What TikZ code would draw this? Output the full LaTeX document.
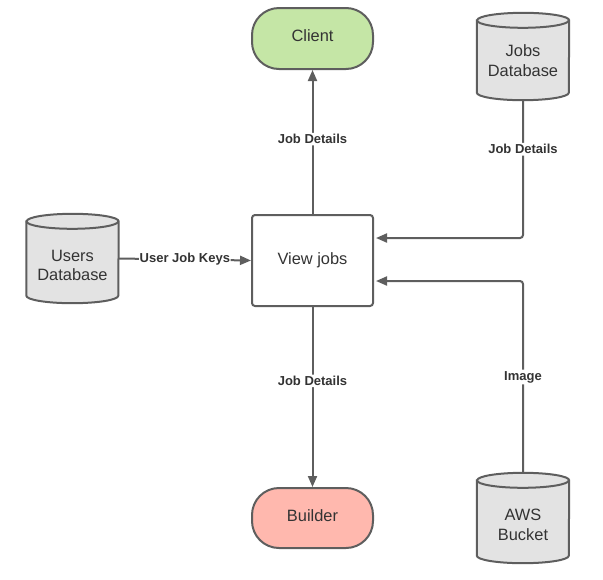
\documentclass[tikz,border=0pt]{standalone}
\usepackage{fontspec}
\setmainfont{Liberation Sans}
\usetikzlibrary{arrows.meta,calc,backgrounds}
\definecolor{lncol}{HTML}{5E5E5E}
\definecolor{txcol}{HTML}{333333}
\definecolor{cgreen}{HTML}{C5E6A6}
\definecolor{cpink}{HTML}{FFB8AE}
\definecolor{cgray}{HTML}{E3E3E3}
\begin{document}
\begin{tikzpicture}[x=1pt,y=-1pt,
  box/.style={draw=lncol,line width=2pt,rounded corners=3pt,minimum width=121pt,minimum height=91pt,inner sep=0pt,
    text=txcol,font=\fontsize{16.4}{19.5}\selectfont,align=center},
  term/.style={draw=lncol,line width=2pt,rounded corners=27pt,minimum width=121pt,minimum height=61pt,inner sep=0pt,
    text=txcol,font=\fontsize{16.4}{19.5}\selectfont,text height=12pt,text depth=6pt},
  dbnode/.style={minimum width=92pt,minimum height=#1,inner sep=0pt},
  dbtext/.style={text=txcol,font=\fontsize{16.4}{19.5}\selectfont,align=center},
  cylbody/.style={draw=lncol,fill=cgray,line width=2pt},
  conn/.style={draw=lncol,line width=2pt,-{Triangle[length=11pt,width=9pt]},rounded corners=3pt},
  lbl/.style={fill=white,text=txcol,font=\bfseries\fontsize{13}{15}\selectfont,inner sep=1.5pt},
]
\useasboundingbox (0,0) rectangle (603,579);

% process nodes
\node[term,fill=cgreen] (client) at (312.5,38.5) {Client};
\node[box] (view) at (312.5,260.5) {View jobs};
\node[term,fill=cpink,minimum height=60pt] (builder) at (312.5,518) {Builder};

% database nodes
\node[dbnode=87pt] (jobs) at (523,56.5) {};
\node[dbnode=89pt] (users) at (72.5,258.5) {};
\node[dbnode=90pt] (aws) at (523,518) {};

\begin{scope}[on background layer]
\foreach \n in {jobs,users,aws}{
  \draw[cylbody] ($(\n.north west)+(0,7.5)$) -- ($(\n.south west)+(0,-7.5)$)
    arc[start angle=180,end angle=360,x radius=46pt,y radius=7.5pt]
    -- ($(\n.north east)+(0,7.5)$)
    arc[start angle=0,end angle=180,x radius=46pt,y radius=7.5pt] -- cycle;
  \draw[draw=lncol,line width=2pt] ($(\n.north west)+(0,7.5)$)
    arc[start angle=180,end angle=360,x radius=46pt,y radius=7.5pt];
}
\end{scope}

\node[dbtext] (jobsT) at ($(jobs.center)+(0,4)$) {Jobs\\Database};
\node[dbtext] (usersT) at ($(users.center)+(0,7)$) {Users\\Database};
\node[dbtext] (awsT) at ($(aws.center)+(0,7)$) {AWS\\Bucket};

% connectors
\draw[conn] (view.north) -- node[lbl,pos=0.52] {Job Details} (client.south);
\draw[conn] (view.south) -- node[lbl,pos=0.41] {Job Details} (builder.north);
\draw[conn] (users.east) -- node[lbl,pos=0.5,inner xsep=0.5pt] {User Job Keys} (view.west);
\draw[conn,shorten >=2pt] (jobs.south) |- node[lbl,pos=0.178] {Job Details} ($(view.east)+(0,-22.5)$);
\draw[conn,shorten >=2pt] (aws.north) |- node[lbl,pos=0.25] {Image} ($(view.east)+(0,20.5)$);
\end{tikzpicture}
\end{document}
